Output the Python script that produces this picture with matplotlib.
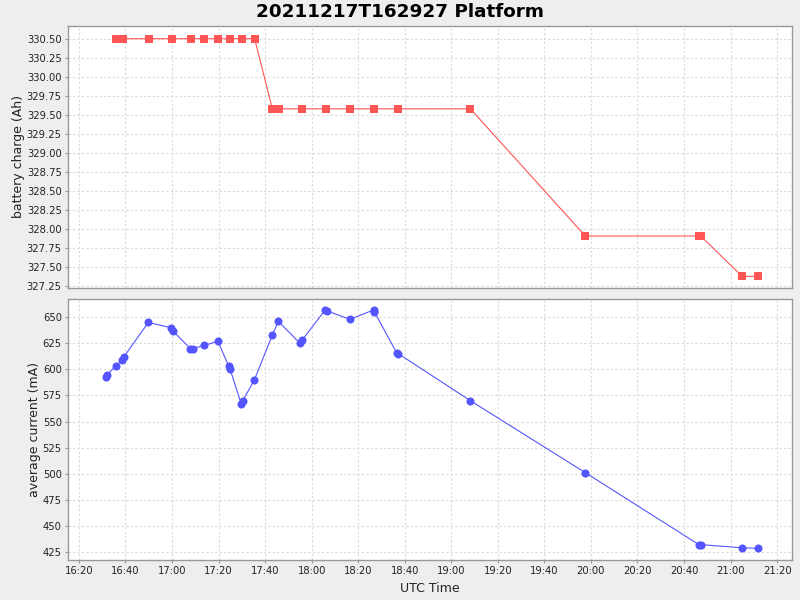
import matplotlib
matplotlib.use("Agg")
import matplotlib.pyplot as plt
import matplotlib.dates as mdates
import pandas as pd

# battery charge samples (UTC time, Ah)
charge_times = ["16:36:03", "16:39:00", "16:49:54", "16:59:54", "17:08:06", "17:13:54",
                "17:19:42", "17:24:42", "17:30:00", "17:35:30", "17:43:06", "17:45:54",
                "17:55:42", "18:06:00", "18:16:30", "18:26:48", "18:36:54", "19:08:12",
                "19:57:36", "20:46:24", "20:47:12", "21:05:00", "21:11:42"]
charge_ah = [330.5, 330.5, 330.5, 330.5, 330.5, 330.5, 330.5, 330.5, 330.5, 330.5,
             329.58, 329.58, 329.58, 329.58, 329.58, 329.58, 329.58, 329.58,
             327.91, 327.91, 327.91, 327.38, 327.38]

# average current samples (UTC time, mA)
current_times = ["16:31:30", "16:32:06", "16:35:45", "16:38:27", "16:39:18", "16:49:48",
                 "16:59:30", "17:00:18", "17:07:54", "17:08:54", "17:13:54", "17:19:42",
                 "17:24:24", "17:25:00", "17:29:42", "17:30:24", "17:35:24", "17:43:06",
                 "17:45:42", "17:55:00", "17:55:54", "18:05:48", "18:06:36", "18:16:30",
                 "18:26:36", "18:27:00", "18:36:30", "18:37:18", "19:08:12", "19:57:36",
                 "20:46:24", "20:47:12", "21:05:00", "21:11:42"]
current_ma = [593, 595, 603, 609, 612, 645, 640, 637, 620, 620, 623, 627,
              603, 600, 567, 570, 590, 633, 646, 625, 628, 657, 656, 648,
              657, 655, 616, 615, 570, 501, 432, 432, 429, 428.5]

day = "2021-12-17 "
t_charge = pd.to_datetime([day + t for t in charge_times])
t_current = pd.to_datetime([day + t for t in current_times])

bg = "#EEEEEE"
grid_col = "#DADADA"
frame_col = "#999999"

fig = plt.figure(figsize=(8, 6), dpi=100, facecolor=bg)
ax1 = fig.add_axes([0.085, 0.52, 0.905, 0.4367])
ax2 = fig.add_axes([0.085, 0.0667, 0.905, 0.4355], sharex=ax1)

ax1.plot(t_charge, charge_ah, color="#FF5555", lw=0.8, marker="s", ms=6.3,
         markeredgewidth=0)
ax2.plot(t_current, current_ma, color="#5555FF", lw=0.8, marker="o", ms=5.8,
         markeredgewidth=0)

ax1.set_ylim(327.228, 330.667)
ax1.set_yticks([327.25 + 0.25 * i for i in range(14)])
ax1.yaxis.set_major_formatter(matplotlib.ticker.FormatStrFormatter("%.2f"))
ax2.set_ylim(417.3, 667.8)
ax2.set_yticks(range(425, 651, 25))

x0 = pd.Timestamp(day + "16:15:18")
x1 = pd.Timestamp(day + "21:26:24")
ax2.set_xlim(x0, x1)
ax2.xaxis.set_major_locator(mdates.MinuteLocator(byminute=[0, 20, 40]))
ax2.xaxis.set_major_formatter(mdates.DateFormatter("%H:%M"))

for ax in (ax1, ax2):
    ax.set_facecolor("white")
    ax.grid(True, color=grid_col, linestyle=(0, (2, 2)), linewidth=0.8)
    for s in ax.spines.values():
        s.set_color(frame_col)
        s.set_linewidth(1.0)
    ax.tick_params(axis="both", labelsize=7.2, color=frame_col, length=2.5, width=0.8,
                   labelcolor="#222222", pad=2)

ax1.tick_params(axis="x", labelbottom=False, length=0)

ax1.set_ylabel("battery charge (Ah)", fontsize=9, color="#222222", labelpad=1.5)
ax2.set_ylabel("average current (mA)", fontsize=9, color="#222222", labelpad=1.5)
ax2.set_xlabel("UTC Time", fontsize=9, color="#222222", labelpad=4)

fig.suptitle("20211217T162927 Platform", fontsize=13.2, fontweight="bold", y=0.995)

fig.savefig("out.png", dpi=100, facecolor=bg)
